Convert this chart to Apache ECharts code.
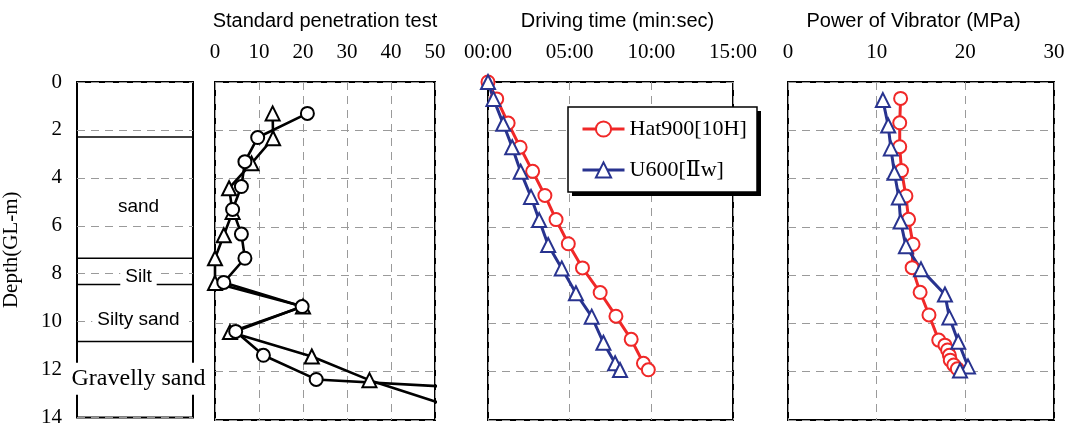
<!DOCTYPE html>
<html>
<head>
<meta charset="utf-8">
<script src="https://cdn.jsdelivr.net/npm/echarts@6/dist/echarts.min.js"></script>
<style>
  html, body { margin: 0; padding: 0; background: #fff; }
  #chart { width: 1068px; height: 428px; }
</style>
</head>
<body>
<div id="chart"></div>
<script>
// Soil profile: depths (GL-m) of layer boundaries and layer captions
const layerBottoms = [2.3, 7.35, 8.45, 10.83];
const layerNames = ['sand', 'Silt', 'Silty sand', 'Gravelly sand'];
const layerLabelDepths = [5.2, 8.12, 9.92, 12.38];

// Standard penetration test (N-value) – two boreholes
const sptDepthCircle = [1.3, 2.3, 3.3, 4.33, 5.28, 6.3, 7.3, 8.3, 9.3, 10.33, 11.32, 12.32, 13.3];
const sptNCircle     = [21, 9.7, 6.8, 6.0, 4.0, 6.0, 6.8, 2.0, 19.8, 4.7, 11.0, 23.0, 120];
const sptDepthTri    = [1.3, 2.33, 3.37, 4.4, 5.38, 6.35, 7.3, 8.33, 9.3, 10.36, 11.37, 12.35, 13.35];
const sptNTri        = [13.1, 13.2, 8.3, 3.2, 4.0, 2.0, 0, 0, 20, 3.4, 22.0, 35.1, 52];

// Series names
const hatName = 'Hat900[10H]';
const uName = 'U600[Ⅱw]';

// Driving time (seconds) vs depth
const driveDepthHat = [0, 0.7, 1.7, 2.7, 3.7, 4.7, 5.7, 6.7, 7.7, 8.72, 9.7, 10.66, 11.65, 11.92];
const driveSecHat   = [0, 32, 74, 118, 164, 209, 250, 295, 347, 412, 470, 526, 571, 589];
const driveDepthU   = [0, 0.7, 1.73, 2.7, 3.72, 4.76, 5.72, 6.75, 7.72, 8.75, 9.72, 10.8, 11.65, 11.93];
const driveSecU     = [0, 20, 56, 89, 120, 158, 188, 221, 271, 323, 381, 424, 467, 485];

// Power of vibrator (MPa) vs depth
const powerDepthHat = [0.68, 1.69, 2.68, 3.67, 4.72, 5.69, 6.72, 7.69, 8.71, 9.65, 10.69, 10.9, 11.1, 11.32, 11.52, 11.72, 11.88];
const powerHat      = [12.7, 12.6, 12.6, 12.8, 13.3, 13.6, 14.1, 14.0, 14.9, 15.9, 17.0, 17.7, 18.0, 18.2, 18.3, 18.7, 19.1];
const powerDepthU   = [0.75, 1.8, 2.75, 3.76, 4.78, 5.78, 6.8, 7.76, 8.8, 9.75, 10.76, 11.78, 11.95];
const powerU        = [10.7, 11.3, 11.6, 12.0, 12.5, 12.7, 13.3, 15.0, 17.7, 18.2, 19.2, 20.3, 19.4];

// Axis ranges
const depthRange = { min: 0, max: 14, interval: 2 };
const sptRange   = { min: 0, max: 50, interval: 10 };
const timeRange  = { min: 0, max: 900, interval: 300 };
const powerRange = { min: 0, max: 30, interval: 10 };

const zip = (xs, ys) => xs.map((x, i) => [x, ys[i]]);
const pad2 = n => String(n).padStart(2, '0');
const mmss = v => pad2(Math.floor(v / 60)) + ':' + pad2(Math.round(v % 60));

const SERIF = "'Liberation Serif', 'DejaVu Serif', serif";
const SANS = "'Liberation Sans', Arial, sans-serif";
const RED = '#f02828';
const BLUE = '#28338f';
const GRID_DASH = { color: '#9a9a9a', width: 1, type: [8, 6] };

const panelTop = 82, panelHeight = 338;
const grids = [
  { left: 72,  width: 121 },
  { left: 215, width: 220 },
  { left: 488, width: 245 },
  { left: 788, width: 266 }
].map(g => Object.assign({
  top: panelTop, height: panelHeight, show: true,
  borderColor: '#000', borderWidth: 2, backgroundColor: 'transparent'
}, g));

function topAxis(gridIndex, range, name, namePad, formatter) {
  return Object.assign({
    type: 'value', gridIndex, position: 'top',
    name, nameLocation: 'middle', nameGap: 51,
    nameTextStyle: { fontFamily: SANS, fontSize: 20, color: '#000', padding: namePad },
    axisLine: { show: false }, axisTick: { show: false },
    axisLabel: { fontFamily: SERIF, fontSize: 21, color: '#000', margin: 19, formatter },
    splitLine: { show: true, lineStyle: GRID_DASH }
  }, range);
}

function depthAxis(gridIndex, withLabels) {
  return Object.assign({
    type: 'value', gridIndex, inverse: true,
    axisLine: { show: false }, axisTick: { show: false },
    axisLabel: { show: withLabels, fontFamily: SERIF, fontSize: 21, color: '#000', margin: 15 },
    splitLine: { show: true, lineStyle: GRID_DASH },
    name: withLabels ? 'Depth(GL-m)' : '',
    nameLocation: 'middle', nameGap: 55, nameRotate: 90,
    nameTextStyle: { fontFamily: SERIF, fontSize: 21, color: '#000' }
  }, depthRange);
}

const labelFonts = ['19px ' + SANS, '19px ' + SANS, '19px ' + SANS, '24px ' + SERIF];

function lineSeries(name, xIdx, xs, depths, symbol, color, opts) {
  return Object.assign({
    type: 'line', name, xAxisIndex: xIdx, yAxisIndex: xIdx,
    data: zip(xs, depths), symbol, symbolSize: 13,
    lineStyle: { color, width: 3 },
    itemStyle: { color, borderColor: color, borderWidth: 1.6 },
    emphasis: { disabled: true }, clip: true, z: 3
  }, opts || {});
}

// Legend frame with its solid drop shadow
const legendBox = { x: 568, y: 107, w: 189, h: 85, shadow: 4 };

const option = {
  animation: false,
  backgroundColor: '#fff',
  grid: grids,
  xAxis: [
    { type: 'value', gridIndex: 0, min: 0, max: 1, show: false },
    topAxis(1, sptRange, 'Standard penetration test', [0, 0, 0, 0]),
    topAxis(2, timeRange, 'Driving time (min:sec)', [0, 0, 0, 14], mmss),
    topAxis(3, powerRange, 'Power of Vibrator (MPa)', [0, 15, 0, 0])
  ],
  yAxis: [depthAxis(0, true), depthAxis(1, false), depthAxis(2, false), depthAxis(3, false)],
  graphic: [
    { type: 'rect', z: 20, silent: true,
      shape: { x: legendBox.x + legendBox.shadow, y: legendBox.y + legendBox.shadow, width: legendBox.w, height: legendBox.h },
      style: { fill: '#000' } },
    { type: 'rect', z: 21, silent: true,
      shape: { x: legendBox.x, y: legendBox.y, width: legendBox.w, height: legendBox.h },
      style: { fill: '#fff', stroke: '#000', lineWidth: 1.5 } }
  ],
  legend: {
    z: 30,
    data: [hatName, uName],
    orient: 'vertical', left: 568, top: 107,
    itemWidth: 42, itemHeight: 19, itemGap: 19,
    padding: [11, 8, 11, 13],
    lineStyle: { width: 3 },
    itemStyle: { borderWidth: 1.6 },
    textStyle: { fontFamily: SERIF, fontSize: 22, color: '#000' },
    selectedMode: false
  },
  series: [
    // soil layer boundaries
    {
      type: 'custom', xAxisIndex: 0, yAxisIndex: 0, z: 3,
      data: layerBottoms.map(d => [0, d]),
      renderItem: (params, api) => {
        const a = api.coord([0, api.value(1)]);
        const b = api.coord([1, api.value(1)]);
        return { type: 'line', shape: { x1: a[0], y1: a[1], x2: b[0], y2: b[1] },
                 style: { stroke: '#000', lineWidth: 1.5 } };
      }
    },
    // soil layer captions
    {
      type: 'custom', xAxisIndex: 0, yAxisIndex: 0, z: 6,
      data: layerLabelDepths.map(d => [0, d]),
      renderItem: (params, api) => {
        const p = api.coord([0.53, api.value(1)]);
        const i = params.dataIndex;
        return { type: 'text', x: p[0], y: p[1],
                 style: { text: layerNames[i], font: labelFonts[i], fill: '#000',
                          align: 'center', verticalAlign: 'middle',
                          backgroundColor: '#fff', padding: [3, 5, 5, 5] } };
      }
    },
    // SPT
    lineSeries('SPT-2', 1, sptNTri, sptDepthTri, 'emptyTriangle', '#000',
      { lineStyle: { color: '#000', width: 2.6 }, symbolSize: 14 }),
    lineSeries('SPT-1', 1, sptNCircle, sptDepthCircle, 'emptyCircle', '#000',
      { lineStyle: { color: '#000', width: 2.6 } }),
    // Driving time
    lineSeries(hatName, 2, driveSecHat, driveDepthHat, 'emptyCircle', RED),
    lineSeries(uName, 2, driveSecU, driveDepthU, 'emptyTriangle', BLUE, { symbolSize: 14 }),
    // Power of vibrator
    lineSeries(hatName, 3, powerHat, powerDepthHat, 'emptyCircle', RED),
    lineSeries(uName, 3, powerU, powerDepthU, 'emptyTriangle', BLUE, { symbolSize: 14 })
  ]
};

const chart = echarts.init(document.getElementById('chart'), null, { renderer: 'canvas' });
chart.setOption(option);
</script>
</body>
</html>
